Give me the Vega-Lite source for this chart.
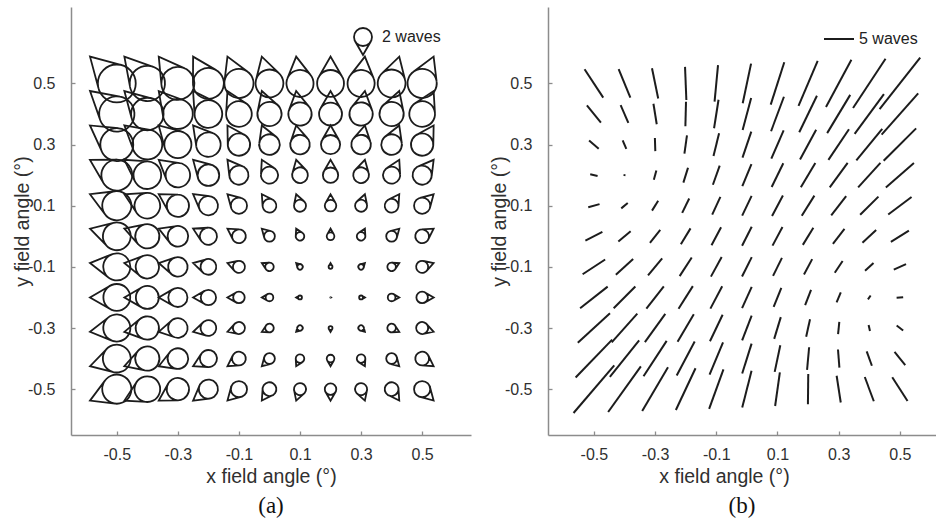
{
  "$schema": "https://vega.github.io/schema/vega-lite/v6.json",
  "background": "white",
  "padding": {"left": 12, "top": 7, "right": 0, "bottom": 0},
  "spacing": 77,
  "bounds": "flush",
  "resolve": {"scale": {"size": "independent", "angle": "independent"}, "legend": {"size": "independent"}},
  "datasets": {
    "coma": [
      {"x":-0.5,"y":0.5,"m":4.21,"d":135},{"x":-0.4,"y":0.5,"m":3.92,"d":130.6},{"x":-0.3,"y":0.5,"m":3.66,"d":125.5},{"x":-0.2,"y":0.5,"m":3.43,"d":119.7},{"x":-0.1,"y":0.5,"m":3.24,"d":113.2},{"x":0,"y":0.5,"m":3.09,"d":106},{"x":0.1,"y":0.5,"m":3.01,"d":98.1},{"x":0.2,"y":0.5,"m":2.98,"d":90},{"x":0.3,"y":0.5,"m":3.01,"d":81.9},{"x":0.4,"y":0.5,"m":3.09,"d":74},{"x":0.5,"y":0.5,"m":3.24,"d":66.8},
      {"x":-0.5,"y":0.4,"m":3.92,"d":139.4},{"x":-0.4,"y":0.4,"m":3.61,"d":135},{"x":-0.3,"y":0.4,"m":3.32,"d":129.8},{"x":-0.2,"y":0.4,"m":3.07,"d":123.7},{"x":-0.1,"y":0.4,"m":2.85,"d":116.6},{"x":0,"y":0.4,"m":2.69,"d":108.4},{"x":0.1,"y":0.4,"m":2.59,"d":99.5},{"x":0.2,"y":0.4,"m":2.55,"d":90},{"x":0.3,"y":0.4,"m":2.59,"d":80.5},{"x":0.4,"y":0.4,"m":2.69,"d":71.6},{"x":0.5,"y":0.4,"m":2.85,"d":63.4},
      {"x":-0.5,"y":0.3,"m":3.66,"d":144.5},{"x":-0.4,"y":0.3,"m":3.32,"d":140.2},{"x":-0.3,"y":0.3,"m":3.01,"d":135},{"x":-0.2,"y":0.3,"m":2.72,"d":128.7},{"x":-0.1,"y":0.3,"m":2.48,"d":121},{"x":0,"y":0.3,"m":2.29,"d":111.8},{"x":0.1,"y":0.3,"m":2.17,"d":101.3},{"x":0.2,"y":0.3,"m":2.13,"d":90},{"x":0.3,"y":0.3,"m":2.17,"d":78.7},{"x":0.4,"y":0.3,"m":2.29,"d":68.2},{"x":0.5,"y":0.3,"m":2.48,"d":59},
      {"x":-0.5,"y":0.2,"m":3.43,"d":150.3},{"x":-0.4,"y":0.2,"m":3.07,"d":146.3},{"x":-0.3,"y":0.2,"m":2.72,"d":141.3},{"x":-0.2,"y":0.2,"m":2.4,"d":135},{"x":-0.1,"y":0.2,"m":2.13,"d":126.9},{"x":0,"y":0.2,"m":1.9,"d":116.6},{"x":0.1,"y":0.2,"m":1.75,"d":104},{"x":0.2,"y":0.2,"m":1.7,"d":90},{"x":0.3,"y":0.2,"m":1.75,"d":76},{"x":0.4,"y":0.2,"m":1.9,"d":63.4},{"x":0.5,"y":0.2,"m":2.13,"d":53.1},
      {"x":-0.5,"y":0.1,"m":3.24,"d":156.8},{"x":-0.4,"y":0.1,"m":2.85,"d":153.4},{"x":-0.3,"y":0.1,"m":2.48,"d":149},{"x":-0.2,"y":0.1,"m":2.13,"d":143.1},{"x":-0.1,"y":0.1,"m":1.8,"d":135},{"x":0,"y":0.1,"m":1.53,"d":123.7},{"x":0.1,"y":0.1,"m":1.34,"d":108.4},{"x":0.2,"y":0.1,"m":1.28,"d":90},{"x":0.3,"y":0.1,"m":1.34,"d":71.6},{"x":0.4,"y":0.1,"m":1.53,"d":56.3},{"x":0.5,"y":0.1,"m":1.8,"d":45},
      {"x":-0.5,"y":0,"m":3.09,"d":164.1},{"x":-0.4,"y":0,"m":2.69,"d":161.6},{"x":-0.3,"y":0,"m":2.29,"d":158.2},{"x":-0.2,"y":0,"m":1.9,"d":153.4},{"x":-0.1,"y":0,"m":1.53,"d":146.3},{"x":0,"y":0,"m":1.2,"d":135},{"x":0.1,"y":0,"m":0.95,"d":116.6},{"x":0.2,"y":0,"m":0.85,"d":90},{"x":0.3,"y":0,"m":0.95,"d":63.4},{"x":0.4,"y":0,"m":1.2,"d":45},{"x":0.5,"y":0,"m":1.53,"d":33.7},
      {"x":-0.5,"y":-0.1,"m":3.01,"d":171.9},{"x":-0.4,"y":-0.1,"m":2.59,"d":170.5},{"x":-0.3,"y":-0.1,"m":2.17,"d":168.7},{"x":-0.2,"y":-0.1,"m":1.75,"d":166},{"x":-0.1,"y":-0.1,"m":1.34,"d":161.6},{"x":0,"y":-0.1,"m":0.95,"d":153.4},{"x":0.1,"y":-0.1,"m":0.6,"d":135},{"x":0.2,"y":-0.1,"m":0.43,"d":90},{"x":0.3,"y":-0.1,"m":0.6,"d":45},{"x":0.4,"y":-0.1,"m":0.95,"d":26.6},{"x":0.5,"y":-0.1,"m":1.34,"d":18.4},
      {"x":-0.5,"y":-0.2,"m":2.98,"d":180},{"x":-0.4,"y":-0.2,"m":2.55,"d":180},{"x":-0.3,"y":-0.2,"m":2.13,"d":180},{"x":-0.2,"y":-0.2,"m":1.7,"d":180},{"x":-0.1,"y":-0.2,"m":1.28,"d":180},{"x":0,"y":-0.2,"m":0.85,"d":180},{"x":0.1,"y":-0.2,"m":0.43,"d":180},{"x":0.2,"y":-0.2,"m":0.05,"d":0},{"x":0.3,"y":-0.2,"m":0.43,"d":0},{"x":0.4,"y":-0.2,"m":0.85,"d":0},{"x":0.5,"y":-0.2,"m":1.28,"d":0},
      {"x":-0.5,"y":-0.3,"m":3.01,"d":188.1},{"x":-0.4,"y":-0.3,"m":2.59,"d":189.5},{"x":-0.3,"y":-0.3,"m":2.17,"d":191.3},{"x":-0.2,"y":-0.3,"m":1.75,"d":194},{"x":-0.1,"y":-0.3,"m":1.34,"d":198.4},{"x":0,"y":-0.3,"m":0.95,"d":206.6},{"x":0.1,"y":-0.3,"m":0.6,"d":225},{"x":0.2,"y":-0.3,"m":0.43,"d":270},{"x":0.3,"y":-0.3,"m":0.6,"d":315},{"x":0.4,"y":-0.3,"m":0.95,"d":333.4},{"x":0.5,"y":-0.3,"m":1.34,"d":341.6},
      {"x":-0.5,"y":-0.4,"m":3.09,"d":195.9},{"x":-0.4,"y":-0.4,"m":2.69,"d":198.4},{"x":-0.3,"y":-0.4,"m":2.29,"d":201.8},{"x":-0.2,"y":-0.4,"m":1.9,"d":206.6},{"x":-0.1,"y":-0.4,"m":1.53,"d":213.7},{"x":0,"y":-0.4,"m":1.2,"d":225},{"x":0.1,"y":-0.4,"m":0.95,"d":243.4},{"x":0.2,"y":-0.4,"m":0.85,"d":270},{"x":0.3,"y":-0.4,"m":0.95,"d":296.6},{"x":0.4,"y":-0.4,"m":1.2,"d":315},{"x":0.5,"y":-0.4,"m":1.53,"d":326.3},
      {"x":-0.5,"y":-0.5,"m":3.24,"d":203.2},{"x":-0.4,"y":-0.5,"m":2.85,"d":206.6},{"x":-0.3,"y":-0.5,"m":2.48,"d":211},{"x":-0.2,"y":-0.5,"m":2.13,"d":216.9},{"x":-0.1,"y":-0.5,"m":1.8,"d":225},{"x":0,"y":-0.5,"m":1.53,"d":236.3},{"x":0.1,"y":-0.5,"m":1.34,"d":251.6},{"x":0.2,"y":-0.5,"m":1.28,"d":270},{"x":0.3,"y":-0.5,"m":1.34,"d":288.4},{"x":0.4,"y":-0.5,"m":1.53,"d":303.7},{"x":0.5,"y":-0.5,"m":1.8,"d":315}
    ],
    "astig": [
      {"x":-0.5,"y":0.5,"m":5.65,"o":123.4},{"x":-0.4,"y":0.5,"m":5.12,"o":112.4},{"x":-0.3,"y":0.5,"m":5.14,"o":101.6},{"x":-0.2,"y":0.5,"m":5.53,"o":92.3},{"x":-0.1,"y":0.5,"m":6.11,"o":84.6},{"x":0,"y":0.5,"m":6.75,"o":78.1},{"x":0.1,"y":0.5,"m":7.43,"o":72.3},{"x":0.2,"y":0.5,"m":8.14,"o":66.9},{"x":0.3,"y":0.5,"m":8.93,"o":61.7},{"x":0.4,"y":0.5,"m":9.84,"o":56.6},{"x":0.5,"y":0.5,"m":10.92,"o":51.7},
      {"x":-0.5,"y":0.4,"m":3.72,"o":128.8},{"x":-0.4,"y":0.4,"m":3.23,"o":113.5},{"x":-0.3,"y":0.4,"m":3.47,"o":99.1},{"x":-0.2,"y":0.4,"m":4.09,"o":88.6},{"x":-0.1,"y":0.4,"m":4.8,"o":81.1},{"x":0,"y":0.4,"m":5.49,"o":75},{"x":0.1,"y":0.4,"m":6.14,"o":69.5},{"x":0.2,"y":0.4,"m":6.77,"o":64.2},{"x":0.3,"y":0.4,"m":7.44,"o":58.9},{"x":0.4,"y":0.4,"m":8.23,"o":53.6},{"x":0.5,"y":0.4,"m":9.2,"o":48.5},
      {"x":-0.5,"y":0.3,"m":2.11,"o":139.4},{"x":-0.4,"y":0.3,"m":1.55,"o":113},{"x":-0.3,"y":0.3,"m":2.18,"o":91.8},{"x":-0.2,"y":0.3,"m":3.08,"o":82.1},{"x":-0.1,"y":0.3,"m":3.89,"o":76.2},{"x":0,"y":0.3,"m":4.57,"o":71.3},{"x":0.1,"y":0.3,"m":5.14,"o":66.5},{"x":0.2,"y":0.3,"m":5.64,"o":61.6},{"x":0.3,"y":0.3,"m":6.16,"o":56.2},{"x":0.4,"y":0.3,"m":6.8,"o":50.6},{"x":0.5,"y":0.3,"m":7.64,"o":44.9},
      {"x":-0.5,"y":0.2,"m":1.26,"o":167.5},{"x":-0.4,"y":0.2,"m":0.29,"o":76.2},{"x":-0.3,"y":0.2,"m":1.57,"o":74.6},{"x":-0.2,"y":0.2,"m":2.6,"o":72.7},{"x":-0.1,"y":0.2,"m":3.39,"o":70.4},{"x":0,"y":0.2,"m":3.97,"o":67.5},{"x":0.1,"y":0.2,"m":4.4,"o":63.9},{"x":0.2,"y":0.2,"m":4.72,"o":59.3},{"x":0.3,"y":0.2,"m":5.05,"o":53.8},{"x":0.4,"y":0.2,"m":5.51,"o":47.6},{"x":0.5,"y":0.2,"m":6.21,"o":41.1},
      {"x":-0.5,"y":0.1,"m":1.95,"o":15.7},{"x":-0.4,"y":0.1,"m":1.4,"o":39.6},{"x":-0.3,"y":0.1,"m":1.93,"o":57.8},{"x":-0.2,"y":0.1,"m":2.66,"o":63.8},{"x":-0.1,"y":0.1,"m":3.25,"o":65.2},{"x":0,"y":0.1,"m":3.65,"o":64.5},{"x":0.1,"y":0.1,"m":3.87,"o":62.1},{"x":0.2,"y":0.1,"m":3.97,"o":58},{"x":0.3,"y":0.1,"m":4.06,"o":52.2},{"x":0.4,"y":0.1,"m":4.3,"o":44.9},{"x":0.5,"y":0.1,"m":4.86,"o":36.9},
      {"x":-0.5,"y":0,"m":3.18,"o":26.9},{"x":-0.4,"y":0,"m":2.67,"o":39.9},{"x":-0.3,"y":0,"m":2.76,"o":51.5},{"x":-0.2,"y":0,"m":3.09,"o":58.6},{"x":-0.1,"y":0,"m":3.39,"o":62},{"x":0,"y":0,"m":3.54,"o":63},{"x":0.1,"y":0,"m":3.52,"o":61.9},{"x":0.2,"y":0,"m":3.36,"o":58.6},{"x":0.3,"y":0,"m":3.16,"o":52.4},{"x":0.4,"y":0,"m":3.12,"o":42.9},{"x":0.5,"y":0,"m":3.54,"o":31.9},
      {"x":-0.5,"y":-0.1,"m":4.49,"o":33.3},{"x":-0.4,"y":-0.1,"m":3.89,"o":42.2},{"x":-0.3,"y":-0.1,"m":3.7,"o":50.5},{"x":-0.2,"y":-0.1,"m":3.7,"o":57},{"x":-0.1,"y":-0.1,"m":3.72,"o":61.2},{"x":0,"y":-0.1,"m":3.62,"o":63.4},{"x":0.1,"y":-0.1,"m":3.35,"o":63.8},{"x":0.2,"y":-0.1,"m":2.91,"o":62},{"x":0.3,"y":-0.1,"m":2.35,"o":56.2},{"x":0.4,"y":-0.1,"m":1.93,"o":42.9},{"x":0.5,"y":-0.1,"m":2.24,"o":24.4},
      {"x":-0.5,"y":-0.2,"m":5.83,"o":38.1},{"x":-0.4,"y":-0.2,"m":5.12,"o":45.1},{"x":-0.3,"y":-0.2,"m":4.7,"o":51.8},{"x":-0.2,"y":-0.2,"m":4.45,"o":57.6},{"x":-0.1,"y":-0.2,"m":4.22,"o":62.2},{"x":0,"y":-0.2,"m":3.89,"o":65.6},{"x":0.1,"y":-0.2,"m":3.41,"o":67.9},{"x":0.2,"y":-0.2,"m":2.73,"o":68.9},{"x":0.3,"y":-0.2,"m":1.82,"o":67.5},{"x":0.4,"y":-0.2,"m":0.78,"o":54.5},{"x":0.5,"y":-0.2,"m":1.1,"o":5.1},
      {"x":-0.5,"y":-0.3,"m":7.25,"o":42.3},{"x":-0.4,"y":-0.3,"m":6.41,"o":48.2},{"x":-0.3,"y":-0.3,"m":5.8,"o":54.1},{"x":-0.2,"y":-0.3,"m":5.34,"o":59.6},{"x":-0.1,"y":-0.3,"m":4.9,"o":64.5},{"x":0,"y":-0.3,"m":4.41,"o":68.9},{"x":0.1,"y":-0.3,"m":3.79,"o":73.1},{"x":0.2,"y":-0.3,"m":3,"o":77.6},{"x":0.3,"y":-0.3,"m":2.03,"o":84.2},{"x":0.4,"y":-0.3,"m":1.05,"o":102.5},{"x":0.5,"y":-0.3,"m":1.35,"o":143.2},
      {"x":-0.5,"y":-0.4,"m":8.77,"o":46},{"x":-0.4,"y":-0.4,"m":7.8,"o":51.3},{"x":-0.3,"y":-0.4,"m":7.04,"o":56.8},{"x":-0.2,"y":-0.4,"m":6.41,"o":62.1},{"x":-0.1,"y":-0.4,"m":5.82,"o":67.3},{"x":0,"y":-0.4,"m":5.21,"o":72.5},{"x":0.1,"y":-0.4,"m":4.53,"o":78.1},{"x":0.2,"y":-0.4,"m":3.78,"o":84.8},{"x":0.3,"y":-0.4,"m":3.03,"o":94.5},{"x":0.4,"y":-0.4,"m":2.55,"o":109.9},{"x":0.5,"y":-0.4,"m":2.85,"o":128.7},
      {"x":-0.5,"y":-0.5,"m":10.45,"o":49.5},{"x":-0.4,"y":-0.5,"m":9.36,"o":54.4},{"x":-0.3,"y":-0.5,"m":8.47,"o":59.5},{"x":-0.2,"y":-0.5,"m":7.7,"o":64.8},{"x":-0.1,"y":-0.5,"m":7.01,"o":70.1},{"x":0,"y":-0.5,"m":6.34,"o":75.8},{"x":0.1,"y":-0.5,"m":5.67,"o":82},{"x":0.2,"y":-0.5,"m":5.03,"o":89.4},{"x":0.3,"y":-0.5,"m":4.51,"o":98.75},{"x":0.4,"y":-0.5,"m":4.31,"o":110.4},{"x":0.5,"y":-0.5,"m":4.69,"o":122.9}
    ]
  },
  "hconcat": [
    {
      "width": 400,
      "height": 428,
      "data": {"name": "coma"},
      "title": {"text": "(a)", "orient": "bottom", "font": "Liberation Serif", "fontSize": 23, "fontWeight": "normal", "color": "#111111", "offset": 9, "anchor": "middle"},
      "mark": {"type": "point", "shape": "M -0.5 0 A 0.5 0.5 0 1 0 0.5 0 A 0.5 0.5 0 1 0 -0.5 0 Z M 0.433 0.25 L 0 1 L -0.433 0.25", "filled": false, "stroke": "#1c1c1c", "strokeWidth": 1.8, "opacity": 1, "strokeJoin": "miter"},
      "encoding": {
        "x": {"field": "x", "type": "quantitative", "scale": {"domain": [-0.65, 0.66], "nice": false, "zero": false},
              "axis": {"title": "x field angle (°)", "values": [-0.5, -0.3, -0.1, 0.1, 0.3, 0.5], "labelExpr": "(datum.value < 0 ? '-' : '') + format(abs(datum.value), '.1f')", "titleY": 32, "titleBaseline": "top"}},
        "y": {"field": "y", "type": "quantitative", "scale": {"domain": [-0.65, 0.75], "nice": false, "zero": false},
              "axis": {"title": "y field angle (°)", "values": [-0.5, -0.3, -0.1, 0.1, 0.3, 0.5], "labelExpr": "(datum.value < 0 ? '-' : '') + format(abs(datum.value), '.1f')", "titleX": -39}},
        "size": {"field": "m", "type": "quantitative", "scale": {"type": "pow", "exponent": 2, "domain": [0, 2], "range": [0, 1296]},
                 "legend": {"values": [2], "title": null, "orient": "none", "legendX": 273, "legendY": 11, "padding": 0,
                            "symbolType": "M -0.5 0 A 0.5 0.5 0 1 0 0.5 0 A 0.5 0.5 0 1 0 -0.5 0 Z M 0.433 0.25 L 0 1 L -0.433 0.25",
                            "symbolStrokeColor": "#1c1c1c", "symbolFillColor": "transparent", "symbolStrokeWidth": 1.8, "symbolOpacity": 1,
                            "labelExpr": "datum.value + ' waves'", "labelFontSize": 16, "labelFont": "Liberation Sans", "labelColor": "#222222", "labelOffset": 0}},
        "angle": {"field": "d", "type": "quantitative", "scale": {"domain": [0, 360], "range": [270, -90]}}
      }
    },
    {
      "width": 388,
      "height": 428,
      "data": {"name": "astig"},
      "title": {"text": "(b)", "orient": "bottom", "font": "Liberation Serif", "fontSize": 23, "fontWeight": "normal", "color": "#111111", "offset": 9, "anchor": "middle"},
      "mark": {"type": "point", "shape": "M -1 0 L 1 0", "filled": false, "stroke": "#1c1c1c", "strokeWidth": 2, "opacity": 1, "strokeCap": "butt"},
      "encoding": {
        "x": {"field": "x", "type": "quantitative", "scale": {"domain": [-0.65, 0.618], "nice": false, "zero": false},
              "axis": {"title": "x field angle (°)", "values": [-0.5, -0.3, -0.1, 0.1, 0.3, 0.5], "labelExpr": "(datum.value < 0 ? '-' : '') + format(abs(datum.value), '.1f')", "titleY": 32, "titleBaseline": "top", "titleX": 176}},
        "y": {"field": "y", "type": "quantitative", "scale": {"domain": [-0.65, 0.75], "nice": false, "zero": false},
              "axis": {"title": "y field angle (°)", "values": [-0.5, -0.3, -0.1, 0.1, 0.3, 0.5], "labelExpr": "(datum.value < 0 ? '-' : '') + format(abs(datum.value), '.1f')", "titleX": -39}},
        "size": {"field": "m", "type": "quantitative", "scale": {"type": "pow", "exponent": 2, "domain": [0, 5], "range": [0, 900]},
                 "legend": {"values": [5], "title": null, "orient": "none", "legendX": 275, "legendY": 16, "padding": 0,
                            "symbolType": "M -1 0 L 1 0", "symbolStrokeColor": "#1c1c1c", "symbolFillColor": "transparent", "symbolStrokeWidth": 2, "symbolOpacity": 1,
                            "labelExpr": "datum.value + ' waves'", "labelFontSize": 16, "labelFont": "Liberation Sans", "labelColor": "#222222", "labelOffset": 4}},
        "angle": {"field": "o", "type": "quantitative", "scale": {"domain": [0, 180], "range": [360, 180]}}
      }
    }
  ],
  "config": {
    "font": "Liberation Sans",
    "view": {"stroke": null},
    "axis": {
      "grid": false,
      "domainColor": "#8c8c8c", "domainWidth": 1.5,
      "tickColor": "#8c8c8c", "tickWidth": 1.3, "tickSize": -4,
      "labelFont": "Liberation Sans", "labelFontSize": 16, "labelColor": "#303030",
      "labelFlush": false, "labelOverlap": false,
      "titleFont": "Liberation Sans", "titleFontSize": 19.5, "titleFontWeight": "normal", "titleColor": "#303030"
    },
    "axisX": {"labelPadding": 15},
    "axisY": {"labelPadding": 20}
  }
}
